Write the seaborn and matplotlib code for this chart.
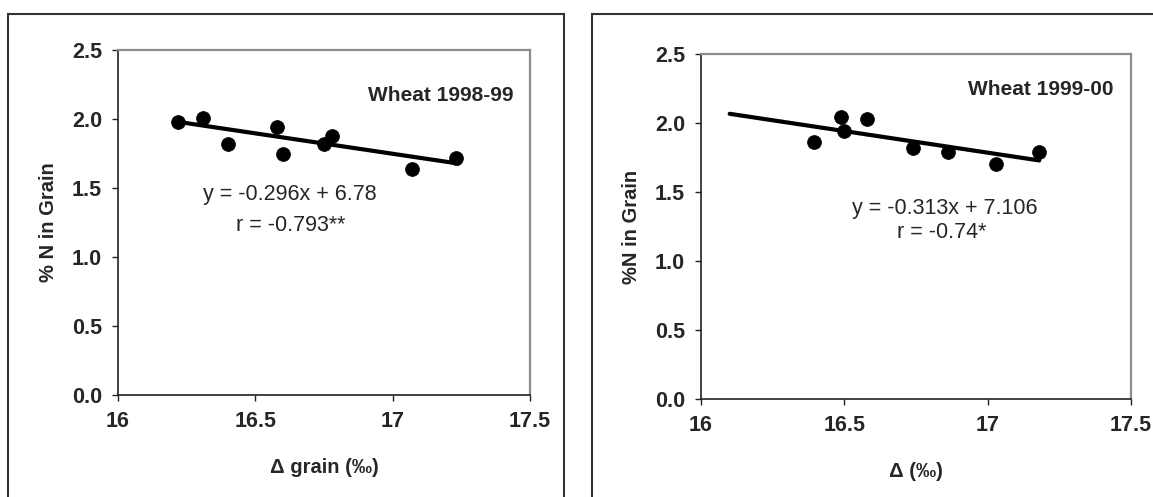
import numpy as np
import pandas as pd
import matplotlib
matplotlib.use("Agg")
import matplotlib.pyplot as plt
from matplotlib.patches import Rectangle
import seaborn as sns

# Wheat 1998-99: carbon isotope discrimination vs grain nitrogen
delta_9899 = [16.22, 16.31, 16.40, 16.58, 16.60, 16.75, 16.78, 17.07, 17.23]
n_9899 = [1.98, 2.01, 1.82, 1.94, 1.75, 1.82, 1.88, 1.64, 1.72]
fit_9899 = (-0.296, 6.78)
fit_x_9899 = [16.22, 17.24]

# Wheat 1999-00
delta_9900 = [16.395, 16.487, 16.50, 16.58, 16.74, 16.86, 17.03, 17.18]
n_9900 = [1.86, 2.04, 1.94, 2.03, 1.82, 1.79, 1.70, 1.79]
fit_9900 = (-0.313, 7.106)
fit_x_9900 = [16.10, 17.18]

x_ticks = [16, 16.5, 17, 17.5]
x_tick_labels = ["16", "16.5", "17", "17.5"]
y_ticks = [0.0, 0.5, 1.0, 1.5, 2.0, 2.5]

sns.set_theme(style="white")
plt.rcParams["font.family"] = ["Liberation Sans", "DejaVu Sans"]

W, H = 1153, 497
fig = plt.figure(figsize=(W / 100, H / 100), dpi=100)

def px_axes(x0, x1, y0, y1):
    # axes placed by pixel edges (y measured from the top)
    return fig.add_axes([x0 / W, 1 - y1 / H, (x1 - x0) / W, (y1 - y0) / H])

# outer panel frames
for (fx0, fy0, fx1, fy1) in [(8, 14, 564, 530), (592, 14, 1190, 530)]:
    fig.add_artist(Rectangle((fx0 / W, 1 - fy1 / H), (fx1 - fx0) / W, (fy1 - fy0) / H,
                             transform=fig.transFigure, fill=False,
                             edgecolor="#333333", linewidth=1.5, clip_on=False))

panels = [
    dict(box=(118, 530, 50, 395), x=delta_9899, y=n_9899, fit=fit_9899, fx=fit_x_9899,
         ylabel="% N in Grain", xlabel="\u0394 grain (\u2030)", title="Wheat 1998-99",
         title_pos=(17.44, 2.17),
         eq="y = -0.296x + 6.78", r="r = -0.793**", eq_pos=(16.626, 1.45), r_pos=(16.63, 1.23)),
    dict(box=(701, 1131, 54, 399), x=delta_9900, y=n_9900, fit=fit_9900, fx=fit_x_9900,
         ylabel="%N in Grain", xlabel="\u0394 (\u2030)", title="Wheat 1999-00",
         title_pos=(17.44, 2.24),
         eq="y = -0.313x + 7.106", r="r = -0.74*", eq_pos=(16.85, 1.38), r_pos=(16.84, 1.21)),
]

for p in panels:
    ax = px_axes(*p["box"])
    df = pd.DataFrame({"d": p["x"], "n": p["y"]})
    sns.scatterplot(data=df, x="d", y="n", ax=ax, color="black", s=100,
                    edgecolor="black", linewidth=0.5, zorder=3)
    slope, icpt = p["fit"]
    fx = np.array(p["fx"])
    line = pd.DataFrame({"d": fx, "n": slope * fx + icpt})
    sns.lineplot(data=line, x="d", y="n", ax=ax, color="black", linewidth=3.0, zorder=4)

    ax.set_xlim(16, 17.5)
    ax.set_ylim(0, 2.5)
    ax.set_xticks(x_ticks)
    ax.set_xticklabels(x_tick_labels)
    ax.set_yticks(y_ticks)
    ax.set_yticklabels([f"{v:.1f}" for v in y_ticks])
    ax.tick_params(axis="both", which="both", direction="out", length=4.5, width=1,
                   color="#222222", labelsize=15.5)
    ax.tick_params(axis="x", pad=7)
    ax.tick_params(axis="y", pad=7)
    for lab in ax.get_xticklabels() + ax.get_yticklabels():
        lab.set_fontweight("bold")
    ax.xaxis.set_ticks_position("bottom")
    ax.yaxis.set_ticks_position("left")

    for side in ("left", "bottom"):
        ax.spines[side].set_color("#222222")
        ax.spines[side].set_linewidth(1.2)
    for side in ("top", "right"):
        ax.spines[side].set_color("#8c8c8c")
        ax.spines[side].set_linewidth(1.6)
    ax.set_facecolor("white")

    ax.set_xlabel(p["xlabel"], fontsize=14.5, fontweight="bold", labelpad=19)
    ax.set_ylabel(p["ylabel"], fontsize=14.5, fontweight="bold", labelpad=10)

    ax.text(*p["title_pos"], p["title"], ha="right", va="center", fontsize=15,
            fontweight="bold")
    ax.text(*p["eq_pos"], p["eq"], ha="center", va="center", fontsize=15.5)
    ax.text(*p["r_pos"], p["r"], ha="center", va="center", fontsize=15.5)

fig.savefig("out.png", dpi=100, facecolor="white")
